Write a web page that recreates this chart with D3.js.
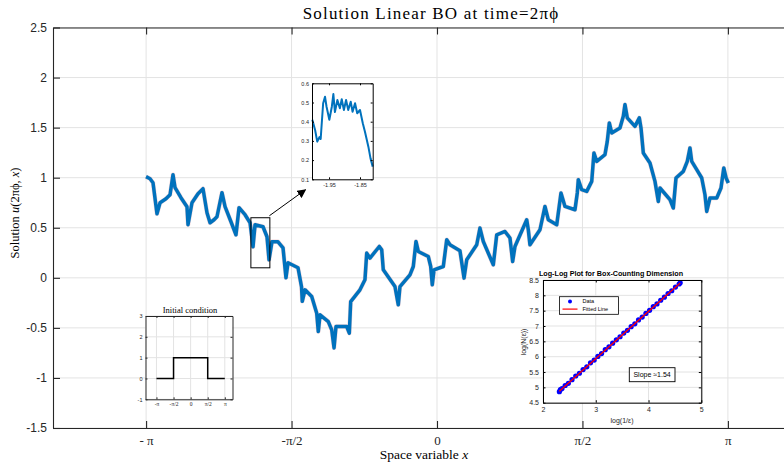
<!DOCTYPE html>
<html>
<head>
<meta charset="utf-8">
<script src="https://cdn.jsdelivr.net/npm/d3@7"></script>
<style>
  body { margin: 0; background: #fff; }
  svg { display: block; }
</style>
</head>
<body>
<svg id="drawing_region"></svg>
<script>
// ---- data ----
const PI = Math.PI;
const xTickValues = [-PI, -PI / 2, 0, PI / 2, PI];
const xTickLabels = ['- π', '-π/2', '0', 'π/2', 'π'];
const yTickValues = [-1.5, -1, -0.5, 0, 0.5, 1, 1.5, 2, 2.5];

// solution u(2πϕ, x)
const curveX = [-3.142, -3.099, -3.067, -3.024, -2.991, -2.927, -2.883, -2.851, -2.829, -2.765,
  -2.700, -2.689, -2.646, -2.581, -2.527, -2.484, -2.451, -2.408, -2.376, -2.322,
  -2.289, -2.225, -2.171, -2.138, -2.073, -2.019, -1.987, -1.965, -1.922, -1.879,
  -1.836, -1.814, -1.782, -1.717, -1.663, -1.631, -1.609, -1.501, -1.463, -1.455,
  -1.425, -1.353, -1.299, -1.282, -1.263, -1.174, -1.137, -1.112, -1.091, -0.975,
  -0.947, -0.932, -0.832, -0.778, -0.759, -0.724, -0.623, -0.597, -0.580, -0.454,
  -0.418, -0.400, -0.292, -0.256, -0.227, -0.202, -0.094, -0.068, -0.051, -0.032,
  0.068, 0.105, 0.140, 0.248, 0.292, 0.321, 0.429, 0.464, 0.500, 0.608,
  0.645, 0.734, 0.788, 0.817, 0.842, 0.969, 0.986, 1.004, 1.112, 1.166,
  1.202, 1.293, 1.339, 1.382, 1.490, 1.515, 1.526, 1.563, 1.617, 1.671,
  1.695, 1.725, 1.814, 1.839, 1.861, 1.887, 1.976, 2.012, 2.030, 2.055,
  2.138, 2.185, 2.203, 2.228, 2.300, 2.354, 2.390, 2.408, 2.516, 2.552,
  2.581, 2.660, 2.703, 2.732, 2.751, 2.805, 2.859, 2.894, 2.913, 2.948,
  3.021, 3.067, 3.097, 3.122, 3.146];
const curveU = [1.01, 0.99, 0.95, 0.64, 0.75, 0.79, 0.83, 1.03, 0.90, 0.80,
  0.71, 0.53, 0.75, 0.84, 0.89, 0.65, 0.55, 0.58, 0.61, 0.85,
  0.71, 0.56, 0.43, 0.70, 0.63, 0.55, 0.31, 0.53, 0.52, 0.51,
  0.41, 0.18, 0.36, 0.36, 0.30, 0.00, 0.15, 0.10, -0.09, -0.235,
  -0.12, -0.187, -0.353, -0.537, -0.37, -0.437, -0.52, -0.70, -0.487, -0.487,
  -0.553, -0.237, -0.12, -0.02, 0.247, 0.197, 0.313, 0.28, 0.08, -0.087,
  -0.27, -0.087, 0.03, 0.113, 0.363, 0.263, 0.213, 0.113, -0.07, 0.08,
  0.113, 0.38, 0.33, 0.27, -0.003, 0.18, 0.33, 0.497, 0.363, 0.13,
  0.43, 0.463, 0.397, 0.163, 0.313, 0.58, 0.48, 0.33, 0.48, 0.713,
  0.58, 0.53, 0.847, 0.713, 0.68, 0.847, 0.98, 0.88, 0.863, 0.963,
  1.247, 1.163, 1.23, 1.363, 1.547, 1.447, 1.497, 1.613, 1.73, 1.597,
  1.513, 1.597, 1.497, 1.247, 1.147, 0.963, 0.763, 0.897, 0.78, 0.697,
  0.997, 1.063, 1.163, 1.297, 1.163, 1.08, 0.997, 0.83, 0.663, 0.797,
  0.797, 0.897, 1.097, 0.997, 0.947];

// zoomed window x in [-2.01,-1.805], u in [0.1,0.6]
const zoomBoxX = [-2.01, -1.805];
const zoomBoxU = [0.1, 0.6];
const zoomX = [-2.004, -1.995, -1.988, -1.981, -1.977, -1.974, -1.969, -1.963, -1.958, -1.949,
  -1.941, -1.936, -1.931, -1.923, -1.915, -1.909, -1.902, -1.895, -1.888, -1.880,
  -1.874, -1.866, -1.859, -1.850, -1.841, -1.834, -1.823, -1.816, -1.809];
const zoomU = [0.41, 0.357, 0.296, 0.32, 0.31, 0.38, 0.496, 0.53, 0.478, 0.41,
  0.478, 0.544, 0.45, 0.513, 0.47, 0.517, 0.461, 0.513, 0.461, 0.504,
  0.452, 0.496, 0.444, 0.461, 0.392, 0.348, 0.27, 0.209, 0.166];
const zoomXTicks = [-1.95, -1.85];
const zoomYTicks = [0.1, 0.2, 0.3, 0.4, 0.5, 0.6];

// initial condition
const icX = [-PI, -PI / 2, -PI / 2, PI / 2, PI / 2, PI];
const icU = [0, 0, 1, 1, 0, 0];
const icXLabels = ['-π', '-π/2', '0', 'π/2', 'π'];
const icYTicks = [-1, 0, 1, 2, 3];

// box counting
const logInvEps = [2.31, 2.33, 2.36, 2.42, 2.48, 2.55, 2.62, 2.69, 2.76, 2.83,
  2.90, 2.97, 3.04, 3.11, 3.18, 3.25, 3.32, 3.39, 3.46, 3.53,
  3.60, 3.67, 3.74, 3.81, 3.88, 3.95, 4.02, 4.09, 4.16, 4.23,
  4.30, 4.37, 4.44, 4.51, 4.58, 4.60];
const logN = [4.86, 4.93, 4.96, 5.06, 5.13, 5.25, 5.37, 5.46, 5.58, 5.67,
  5.80, 5.89, 6.01, 6.10, 6.23, 6.32, 6.44, 6.55, 6.65, 6.77,
  6.86, 6.98, 7.07, 7.20, 7.29, 7.41, 7.51, 7.63, 7.72, 7.84,
  7.94, 8.06, 8.15, 8.27, 8.37, 8.41];
const fitX = [2.31, 4.60];
const fitY = [4.87, 8.40];
const slopeValue = 1.54;
const bcXTicks = [2, 3, 4, 5];
const bcYTicks = [4.5, 5, 5.5, 6, 6.5, 7, 7.5, 8, 8.5];

// ---- drawing ----
const W = 784, H = 466;
const AX = '#262626';
const GRID = '#e3e3e3';
const BLUE = '#0072BD';
const SERIF = '"Liberation Serif", "DejaVu Serif", serif';
const SANS = '"Liberation Sans", Arial, sans-serif';

const svg = d3.select('#drawing_region').attr('width', W).attr('height', H);

function makeAxes(cfg) {
  const g = svg.append('g').attr('transform', `translate(${cfg.left},${cfg.top})`);
  const xs = d3.scaleLinear().domain(cfg.xDomain).range([0, cfg.width]);
  const ys = d3.scaleLinear().domain(cfg.yDomain).range([cfg.height, 0]);

  g.append('rect').attr('width', cfg.width).attr('height', cfg.height).attr('fill', '#fff');

  if (cfg.grid) {
    g.append('g').selectAll('line').data(cfg.xTicks).join('line')
      .attr('x1', d => xs(d)).attr('x2', d => xs(d))
      .attr('y1', 0).attr('y2', cfg.height)
      .attr('stroke', GRID).attr('stroke-width', 1);
    g.append('g').selectAll('line').data(cfg.yTicks).join('line')
      .attr('x1', 0).attr('x2', cfg.width)
      .attr('y1', d => ys(d)).attr('y2', d => ys(d))
      .attr('stroke', GRID).attr('stroke-width', 1);
  }

  const plot = g.append('g');

  const tl = cfg.tickLen;
  const bottom = g.append('g').attr('transform', `translate(0,${cfg.height})`)
    .call(d3.axisBottom(xs).tickValues(cfg.xTicks)
      .tickFormat((d, i) => cfg.xLabels ? cfg.xLabels[i] : d)
      .tickSize(-tl).tickSizeOuter(0).tickPadding(cfg.xPad));
  const top = g.append('g')
    .call(d3.axisTop(xs).tickValues(cfg.xTicks).tickFormat('').tickSize(-tl).tickSizeOuter(0));
  const left = g.append('g')
    .call(d3.axisLeft(ys).tickValues(cfg.yTicks)
      .tickFormat(d => cfg.yFormat ? cfg.yFormat(d) : d)
      .tickSize(-tl).tickSizeOuter(0).tickPadding(cfg.yPad));
  const right = g.append('g').attr('transform', `translate(${cfg.width},0)`)
    .call(d3.axisRight(ys).tickValues(cfg.yTicks).tickFormat('').tickSize(-tl).tickSizeOuter(0));

  [bottom, top, left, right].forEach(a => {
    a.attr('font-family', null).attr('font-size', null);
    a.selectAll('.domain').attr('stroke', cfg.frame).attr('stroke-width', cfg.frameWidth);
    a.selectAll('.tick line').attr('stroke', cfg.frame).attr('stroke-width', cfg.frameWidth);
    a.selectAll('text').attr('fill', AX);
  });
  bottom.selectAll('text').attr('font-family', cfg.xFont).attr('font-size', cfg.xFontSize);
  left.selectAll('text').attr('font-family', SANS).attr('font-size', cfg.yFontSize);

  return { g, plot, xs, ys };
}

// main axes
const main = makeAxes({
  left: 53, top: 27.5, width: 768, height: 400.5,
  xDomain: [-4.147, 4.147], yDomain: [-1.5, 2.5],
  xTicks: xTickValues, xLabels: xTickLabels, yTicks: yTickValues,
  tickLen: 7, xPad: 8, yPad: 6, grid: true,
  frame: AX, frameWidth: 1.1,
  xFont: SERIF, xFontSize: 13, yFontSize: 12
});

const mainLine = d3.line().x(i => main.xs(curveX[i])).y(i => main.ys(curveU[i]));
main.plot.append('path')
  .attr('d', mainLine(d3.range(curveX.length)))
  .attr('fill', 'none').attr('stroke', '#c0505a').attr('stroke-width', 4.4)
  .attr('stroke-opacity', 0.25).attr('stroke-linejoin', 'round');
main.plot.append('path')
  .attr('d', mainLine(d3.range(curveX.length)))
  .attr('fill', 'none').attr('stroke', BLUE).attr('stroke-width', 3.5)
  .attr('stroke-linejoin', 'round');

// zoom rectangle + arrow
main.plot.append('rect')
  .attr('x', main.xs(zoomBoxX[0])).attr('y', main.ys(zoomBoxU[1]))
  .attr('width', main.xs(zoomBoxX[1]) - main.xs(zoomBoxX[0]))
  .attr('height', main.ys(zoomBoxU[0]) - main.ys(zoomBoxU[1]))
  .attr('fill', 'none').attr('stroke', '#000').attr('stroke-width', 1);

svg.append('defs').append('marker')
  .attr('id', 'arrow').attr('viewBox', '0 0 10 10').attr('refX', 9).attr('refY', 5)
  .attr('markerWidth', 9).attr('markerHeight', 9).attr('markerUnits', 'userSpaceOnUse')
  .attr('orient', 'auto')
  .append('path').attr('d', 'M0,0 L10,5 L0,10 z').attr('fill', '#000');
main.plot.append('line')
  .attr('x1', main.xs(-1.81)).attr('y1', main.ys(0.62))
  .attr('x2', main.xs(-1.42)).attr('y2', main.ys(0.88))
  .attr('stroke', '#000').attr('stroke-width', 1).attr('marker-end', 'url(#arrow)');

// main labels
svg.append('text').attr('x', 431).attr('y', 19).attr('text-anchor', 'middle')
  .attr('font-family', SERIF).attr('font-size', 17).attr('letter-spacing', 1.2).attr('fill', '#000')
  .text('Solution Linear BO at time=2πϕ');
const xl = svg.append('text').attr('x', 424).attr('y', 459).attr('text-anchor', 'middle')
  .attr('font-family', SERIF).attr('font-size', 13.5).attr('fill', '#000');
xl.append('tspan').text('Space variable ');
xl.append('tspan').attr('font-style', 'italic').text('x');
const yl = svg.append('text').attr('transform', 'translate(19,213) rotate(-90)')
  .attr('text-anchor', 'middle').attr('font-family', SERIF).attr('font-size', 12.5).attr('fill', '#000');
yl.append('tspan').text('Solution ');
yl.append('tspan').attr('font-style', 'italic').text('u');
yl.append('tspan').text('(2πϕ, ');
yl.append('tspan').attr('font-style', 'italic').text('x');
yl.append('tspan').text(')');

// zoom inset
const zin = makeAxes({
  left: 312, top: 83.3, width: 60.7, height: 96,
  xDomain: [-2.005, -1.809], yDomain: [0.1, 0.6],
  xTicks: zoomXTicks, yTicks: zoomYTicks,
  tickLen: 2, xPad: 4, yPad: 3, grid: false,
  frame: '#000', frameWidth: 1,
  xFont: SANS, xFontSize: 5.5, yFontSize: 5.5,
  yFormat: d => d3.format('.1f')(d)
});
zin.plot.append('path')
  .attr('d', d3.line().x(i => zin.xs(zoomX[i])).y(i => zin.ys(zoomU[i]))(d3.range(zoomX.length)))
  .attr('fill', 'none').attr('stroke', BLUE).attr('stroke-width', 2).attr('stroke-linejoin', 'round');

// initial condition inset
const ic = makeAxes({
  left: 145.5, top: 316, width: 87, height: 83.3,
  xDomain: [-4.15, 3.85], yDomain: [-1, 3],
  xTicks: xTickValues, xLabels: icXLabels, yTicks: icYTicks,
  tickLen: 2, xPad: 3, yPad: 3, grid: true,
  frame: AX, frameWidth: 1,
  xFont: SERIF, xFontSize: 5.5, yFontSize: 5.5
});
ic.plot.append('path')
  .attr('d', d3.line().x(i => ic.xs(icX[i])).y(i => ic.ys(icU[i]))(d3.range(icX.length)))
  .attr('fill', 'none').attr('stroke', '#000').attr('stroke-width', 1.5);
svg.append('text').attr('x', 190).attr('y', 312.5).attr('text-anchor', 'middle')
  .attr('font-family', SERIF).attr('font-size', 8.5).attr('fill', '#000')
  .text('Initial condition');

// box-counting inset
const bc = makeAxes({
  left: 543, top: 280, width: 158.3, height: 122.7,
  xDomain: [2, 5], yDomain: [4.5, 8.5],
  xTicks: bcXTicks, yTicks: bcYTicks,
  tickLen: 2.5, xPad: 4, yPad: 4, grid: true,
  frame: '#000', frameWidth: 1,
  xFont: SANS, xFontSize: 7, yFontSize: 7
});
bc.plot.selectAll('circle').data(d3.range(logInvEps.length)).join('circle')
  .attr('cx', i => bc.xs(logInvEps[i])).attr('cy', i => bc.ys(logN[i]))
  .attr('r', 2.6).attr('fill', '#0000ff');
bc.plot.append('line')
  .attr('x1', bc.xs(fitX[0])).attr('y1', bc.ys(fitY[0]))
  .attr('x2', bc.xs(fitX[1])).attr('y2', bc.ys(fitY[1]))
  .attr('stroke', '#ff0000').attr('stroke-width', 1.3);

// legend
const lg = bc.g.append('g').attr('transform', 'translate(16.5,16.7)');
lg.append('rect').attr('width', 59).attr('height', 17.6)
  .attr('fill', '#fff').attr('stroke', '#000').attr('stroke-width', 0.8);
lg.append('circle').attr('cx', 10.5).attr('cy', 4.8).attr('r', 2).attr('fill', '#0000ff');
lg.append('line').attr('x1', 3).attr('x2', 18).attr('y1', 12.4).attr('y2', 12.4)
  .attr('stroke', '#ff0000').attr('stroke-width', 1.2);
lg.append('text').attr('x', 23).attr('y', 6.8).attr('font-family', SANS).attr('font-size', 5.5)
  .attr('fill', '#000').text('Data');
lg.append('text').attr('x', 23).attr('y', 14.4).attr('font-family', SANS).attr('font-size', 5.5)
  .attr('fill', '#000').text('Fitted Line');

// slope box
const sb = bc.g.append('g').attr('transform', 'translate(86.3,87.7)');
sb.append('rect').attr('width', 45.7).attr('height', 14)
  .attr('fill', '#fff').attr('stroke', '#000').attr('stroke-width', 0.9);
sb.append('text').attr('x', 22.8).attr('y', 9.6).attr('text-anchor', 'middle')
  .attr('font-family', SANS).attr('font-size', 7).attr('fill', '#000')
  .text(`Slope  ≈${slopeValue}`);

svg.append('text').attr('x', 611).attr('y', 276).attr('text-anchor', 'middle')
  .attr('font-family', SANS).attr('font-weight', 'bold').attr('font-size', 7.2).attr('fill', '#000')
  .text('Log-Log Plot for Box-Counting Dimension');
svg.append('text').attr('x', 622).attr('y', 423).attr('text-anchor', 'middle')
  .attr('font-family', SANS).attr('font-size', 7).attr('fill', AX)
  .text('log(1/ε)');
svg.append('text').attr('transform', 'translate(526,342) rotate(-90)').attr('text-anchor', 'middle')
  .attr('font-family', SANS).attr('font-size', 7).attr('fill', AX)
  .text('log(N(ε))');
</script>
</body>
</html>
